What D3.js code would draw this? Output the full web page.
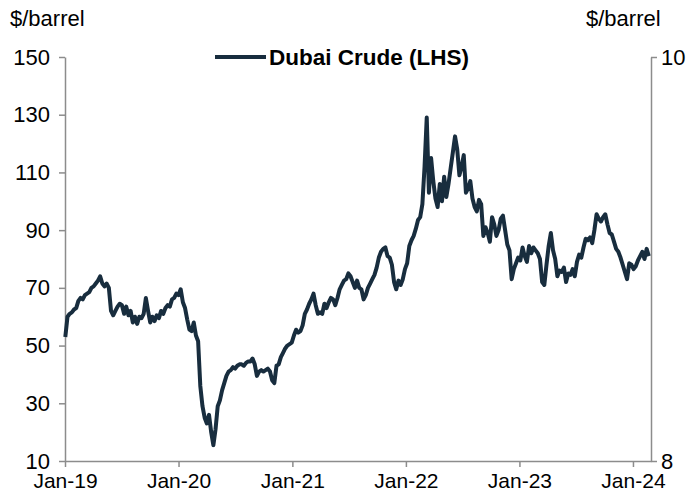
<!DOCTYPE html>
<html>
<head>
<meta charset="utf-8">
<script src="https://cdn.jsdelivr.net/npm/d3@7"></script>
<style>
  body { margin: 0; background: #fff; }
  svg { display: block; font-family: "Liberation Sans", Arial, sans-serif; }
</style>
</head>
<body>
<svg width="694" height="502"></svg>
<script>
// weekly Dubai crude, $/barrel, one value per Wednesday from 2 Jan 2019
const dubai2019 = [53, 60, 61, 61.5, 62.5, 63, 65.5, 66.5, 66, 67.5, 68, 68.5, 70,
  70.5, 71.5, 72.5, 74, 71.5, 70.5, 71.5, 70, 62, 60.5, 62, 63.5, 64.5,
  64, 61, 63.5, 60.5, 62, 58, 60, 57.5, 60, 59.5, 61, 66.5, 62,
  58, 60, 58.5, 60.5, 59.5, 62, 61, 63, 64, 63.5, 66, 66.5, 68];
const dubai2020 = [67.5, 69.5, 65, 63, 59, 55.5, 55, 58, 53.5, 51.5, 36, 29, 25,
  23, 26, 20, 15.5, 21, 29, 31, 34.5, 37, 39.5, 41, 41.5, 42.5,
  42, 43, 43.5, 43.5, 43, 44, 44.5, 44.5, 45.5, 43.5, 39.5, 41, 41.5, 41,
  41.5, 42, 41, 38, 37, 43, 43.5, 46, 47.5, 49, 50, 50.5, 51];
const dubai2021 = [53.5, 55.5, 54.5, 55, 57, 61, 62.5, 64.5, 66, 68, 64, 61, 61.5,
  61, 64.5, 63, 65, 66.5, 66, 64, 66.5, 69.5, 71, 72.5, 73, 75,
  74, 72, 70, 72.5, 70, 69.5, 66, 67.5, 70, 71.5, 73, 74.5, 77,
  80.5, 82.5, 83.5, 84, 81, 80.5, 78, 72, 69.5, 72.5, 71, 73, 76.5];
const dubai2022 = [78.5, 84.5, 86.5, 88, 90.5, 93.5, 94.5, 99, 112, 129, 103, 115, 107,
  101, 98, 106, 100, 108.5, 101.5, 106, 111.5, 117, 122.5, 118, 109, 112,
  116, 103, 104.5, 107, 101, 98, 96.5, 100.5, 99, 88, 91, 89, 86,
  94.5, 92, 88, 90, 94, 95, 90, 85, 83, 73, 76.5, 78.5, 80.5];
const dubai2023 = [79.5, 84, 81, 79, 84.5, 82, 84, 83, 82, 80, 72, 71, 78,
  84.5, 89, 83, 80, 74, 76, 75.5, 77, 72, 75, 74.5, 76.5, 74,
  79, 81.5, 80.5, 84, 87, 86.5, 87.5, 85.5, 90, 95.5, 94, 93, 94.5,
  95.5, 92, 89, 88.5, 86, 83.5, 82.5, 80.5, 78, 75.5, 73, 78.5, 78];
const dubai2024 = [76.5, 77.5, 79.5, 81, 82.5, 80, 83.5, 81];

const leftTicks = [10, 30, 50, 70, 90, 110, 130, 150];
const rightTicks = [8, 10];
const yearTicks = ["2019-01-01", "2020-01-01", "2021-01-01", "2022-01-01", "2023-01-01", "2024-01-01"];
const seriesName = "Dubai Crude (LHS)";

const values = [].concat(dubai2019, dubai2020, dubai2021, dubai2022, dubai2023, dubai2024);
const firstWeek = new Date(2019, 0, 2);
const data = values.map((v, i) => ({ date: d3.timeDay.offset(firstWeek, 7 * i), value: v }));

const margin = {top: 57, right: 43, bottom: 41, left: 65};
const width = 694, height = 502;
const lineColor = "#182d3e";
const axisColor = "#8c8c8c";

const svg = d3.select("svg");

const x = d3.scaleTime()
    .domain([new Date(2019, 0, 1), new Date(2024, 1, 28)])
    .range([margin.left, width - margin.right]);

const y = d3.scaleLinear()
    .domain([10, 150])
    .range([height - margin.bottom, margin.top]);

const yRight = d3.scaleLinear()
    .domain([8, 10])
    .range([height - margin.bottom, margin.top]);

const parse = d3.timeParse("%Y-%m-%d");

const xAxis = d3.axisBottom(x)
    .tickValues(yearTicks.map(parse))
    .tickFormat(d3.timeFormat("%b-%y"))
    .tickSize(6)
    .tickSizeOuter(0)
    .tickPadding(6);

const yAxis = d3.axisLeft(y)
    .tickValues(leftTicks)
    .tickSize(6)
    .tickSizeOuter(0)
    .tickPadding(9);

const yAxisRight = d3.axisRight(yRight)
    .tickValues(rightTicks)
    .tickFormat(d3.format("d"))
    .tickSize(6)
    .tickSizeOuter(0)
    .tickPadding(4);

function styleAxis(g, size) {
  g.selectAll("path, line").attr("stroke", axisColor).attr("stroke-width", 1.5);
  g.selectAll("text").attr("fill", "#000").style("font-size", size);
}

svg.append("g")
    .attr("transform", `translate(0,${height - margin.bottom})`)
    .call(xAxis)
    .call(styleAxis, "21px");

svg.append("g")
    .attr("transform", `translate(${margin.left},0)`)
    .call(yAxis)
    .call(styleAxis, "22px");

svg.append("g")
    .attr("transform", `translate(${width - margin.right},0)`)
    .call(yAxisRight)
    .call(styleAxis, "22px");

const line = d3.line()
    .x(d => x(d.date))
    .y(d => y(d.value));

svg.append("path")
    .datum(data)
    .attr("fill", "none")
    .attr("stroke", lineColor)
    .attr("stroke-width", 4)
    .attr("stroke-linejoin", "round")
    .attr("d", line);

// unit labels
svg.append("text")
    .attr("x", 10).attr("y", 26)
    .style("font-size", "22px")
    .text("$/barrel");

svg.append("text")
    .attr("x", 586).attr("y", 26)
    .style("font-size", "22px")
    .text("$/barrel");

// legend
const legend = svg.append("g").attr("transform", "translate(215,57)");
legend.append("line")
    .attr("x1", 0).attr("x2", 51)
    .attr("stroke", lineColor)
    .attr("stroke-width", 4);
legend.append("text")
    .attr("x", 54).attr("dy", "0.35em")
    .style("font-size", "22.5px")
    .style("font-weight", "bold")
    .text(seriesName);
</script>
</body>
</html>
